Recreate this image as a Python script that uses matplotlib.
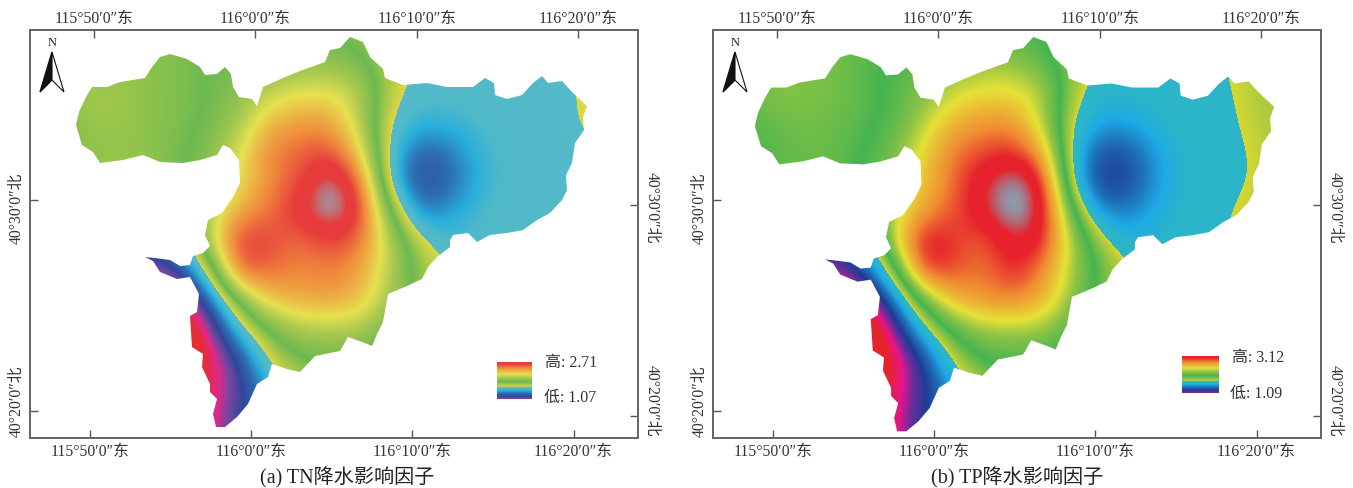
import numpy as np
import matplotlib
matplotlib.use('Agg')
import matplotlib.pyplot as plt
from matplotlib.colors import LinearSegmentedColormap
from matplotlib.patches import Polygon
from matplotlib.transforms import ScaledTranslation

FONT = ['Liberation Serif', 'Noto Sans CJK SC']
W, H = 1353, 488

## boundary of the basin in image pixels
outline_x = [76,79,86,92,107,120,145,152,160,170,187,200,205,217,225,231,233,239,252,257,263,283,300,325,330,340,
             350,363,370,383,385,403,427,447,473,485,494,495,507,522,533,542,548,562,572,587,583,584,575,572,566,
             567,562,550,537,523,507,490,477,468,453,450,450,437,428,422,407,388,385,383,377,372,362,348,340,315,
             300,287,272,268,257,248,237,225,216,213,217,210,210,202,203,192,190,197,199,190,177,160,153,145,
             155,170,180,190,193,203,210,205,208,222,233,240,239,230,223,217,200,183,160,143,123,100,93,82]
outline_y = [125,112,97,87,87,82,78,67,57,54,59,67,75,74,67,74,87,97,99,106,87,78,71,62,50,48,
             37,42,57,69,78,85,83,87,87,78,83,95,99,95,83,76,83,81,92,106,117,130,143,163,175,
             190,200,213,220,230,233,235,242,233,235,240,247,257,267,279,286,294,311,322,334,346,342,337,351,356,
             372,369,364,377,384,404,417,427,427,414,399,392,384,367,354,347,316,312,294,277,279,272,261,257,
             258,260,266,265,256,253,246,235,220,213,197,183,160,148,145,155,160,163,162,155,160,163,152,145]

## raster level of the factor (0 = peak, 100 = far end of the ramp), one row per 30 px
grid_x = [60,90,120,150,180,210,240,270,300,330,360,390,420,450,480,510,540,570,600]
grid_y = [30,60,90,120,150,180,210,240,270,300,330,360,390,420,450]

levels_tn = [
    [59,59,59,58,57,56,56,56,56,56,58,64,67,67,68,68,67,66,65],
    [59,59,59,58,57,55,54,52,50,50,54,62,66.5,68,68,68,67,66.3,65],
    [59,60,60,58,57,55,50,44,40,39,44,63,69,69,68,68,68,66.2,65],
    [57,60,60,58,57,54,47,32,28,28,44,67,72,72,70,68,68,66.3,65],
    [55,58,59,58,56,52,39,24,21,18,36,70,82,79,72,69,68,67,66],
    [60,60,60,60,56,50,38,25,18,4,20,72,86,82,73,69,68,67,66],
    [66,66,66,66,58,44,30,22,13,0,13,56,80,76,71,68,68,67,66],
    [80,80,80,80,75,42,14,17,22,16,21,44,65,71,69,68,68,67,66],
    [105,100,98,92,86,62,18,21,25,23,28,44,58,66,69,68,67,66,66],
    [115,115,115,110,100,82,52,33,30,28,32,47,60,66,68,68,67,66,66],
    [115,115,115,115,110,94,70,54,46,45,46,54,62,66,67,67,67,66,66],
    [115,115,115,115,110,99,86,64,56,54,56,60,64,66,67,67,67,66,66],
    [115,115,115,115,108,98,88,76,62,58,58,60,64,66,67,67,67,66,66],
    [115,115,115,115,106,97,86,78,66,60,58,60,64,66,67,67,67,66,66],
    [115,115,115,115,106,97,86,78,66,60,58,60,64,66,67,67,67,66,66],
]
levels_tp = [
    [60,60,60,59,57,55,54,54,54,54,56,62,67,68,68,68,66,64,62],
    [60,60,60,59,57,54,52,48,46,46,52,62,67,69,68,68,66,64,62],
    [58,60,60,59,57,54,47,42,38,38,42,63,70,70,68,68,67,64,62],
    [56,58,59,58,57,53,44,32,27,27,42,68,74,73,70,68,67.5,64.5,62],
    [55,56,58,58,55,50,36,23,20,17,30,71,84,82,73,69,68,65.5,63],
    [57,58,58,57,55,48,34,22,12,3,13,72,88,84,74,69,68,65.7,63],
    [66,66,66,66,58,44,28,21,11,0,10,56,80,78,72,69,67,64,62],
    [80,80,80,85,76,40,12,17,22,10,14,44,65,72,70,68,66.5,63,62],
    [105,100,98,92,84,62,15,19,24,15,24,44,58,66,69,68,66,63,62],
    [115,115,115,110,100,82,51,31,26,24,30,47,60,66,68,67,65,63,62],
    [115,115,115,115,110,94,70,53,45,44,45,54,62,66,68,67,65,63,62],
    [115,115,115,115,110,100,87,64,55,53,55,60,64,66,67,66,65,63,62],
    [115,115,115,115,108,98,88,76,62,57,57,60,64,66,67,66,65,63,62],
    [115,115,115,115,106,97,86,78,66,60,58,60,64,66,67,66,65,63,62],
    [115,115,115,115,106,97,86,78,66,60,58,60,64,66,67,66,65,63,62],
]

## ramps: (level, colour)
ramp_levels = [0,5,11,16,25,38,46,55,64,66,66.01,70,74,80,86,91,95,100]
ramp_tn = ['#96a3b0','#96a3b0','#e63c3c','#e63c3c','#f08c3c','#e6e150','#a8c850','#6cb950','#c8d246',
           '#dcd74a','#55b9c8','#50b9c8','#28afdc','#2d6eb4','#32469a','#78469f','#e1288c','#e62d32']
ramp_tp = ['#8c9bab','#8c9bab','#e6232d','#e6232d','#f08c32','#e6e137','#8cc346','#46b450','#b4cd3c',
           '#d7d732','#2cb4c8','#2cb4c8','#1eaae6','#1e6eb4','#1e3c96','#6e2d9b','#e6148c','#e6232d']

lon_ticks = [115+50/60, 116, 116+10/60, 116+20/60]
lon_labels = ['115°50′0″东', '116°0′0″东', '116°10′0″东', '116°20′0″东']
lat_ticks = [40+20/60, 40.5]
lat_labels = ['40°20′0″北', '40°30′0″北']

def lon_of(px, x0=251.):
    return 116 + (np.asarray(px, float) - x0) / 16.13 / 60
def lat_of(py, y0=411.):
    return 40 + 20/60 + (y0 - np.asarray(py, float)) / 21.1 / 60

def frac(px, py):
    # panel-(a) pixels to axes fraction
    return (px - 30.) / 608., (438. - py) / 408.

def make_cmap(colors):
    stops = [l / 100. for l in ramp_levels]
    return LinearSegmentedColormap.from_list('ramp', list(zip(stops, colors)), N=2048)

def draw_panel(fig, shift, levels, ramp, stretch, caption, cap_x, high, low, leg, high_pos, low_pos):
    ax = fig.add_axes([(30. + shift) / W, 1 - 438. / H, 608. / W, 408. / H])
    cmap = make_cmap(ramp)
    ext = (lon_of(grid_x[0] - 15), lon_of(grid_x[-1] + 15), lat_of(grid_y[-1] + 15), lat_of(grid_y[0] - 15))
    im = ax.imshow(np.array(levels, float), extent=ext, origin='upper', aspect='auto', cmap=cmap,
                   vmin=0, vmax=100, interpolation='bicubic', interpolation_stage='data')
    # panel (b) map is printed a little larger
    ox = 331 + (np.array(outline_x) - 331.) * stretch
    oy = 38 + (np.array(outline_y) - 38.) * (1 + (stretch - 1) * 0.7)
    poly = Polygon(np.c_[lon_of(ox), lat_of(oy)], closed=True, transform=ax.transData, fc='none', ec='none')
    ax.add_patch(poly)
    im.set_clip_path(poly)
    ax.set_xlim(lon_of(30), lon_of(638))
    ax.set_ylim(lat_of(438), lat_of(30))

    ax.set_xticks(lon_ticks)
    ax.set_xticklabels(lon_labels, family=FONT, fontsize=11.3, color='#333333')
    ax.set_yticks(lat_ticks)
    ax.set_yticklabels(lat_labels, family=FONT, fontsize=11.3, color='#333333', rotation=90, va='center')
    ax.tick_params(direction='in', length=6, width=1, color='#555555', pad=4)
    for lab, dy in zip(ax.get_yticklabels(), [-10, 8]):
        lab.set_transform(lab.get_transform() + ScaledTranslation(0, -dy / 100., fig.dpi_scale_trans))

    top = ax.twiny()
    top.set_xlim(lon_of(30, 255.5), lon_of(638, 255.5))
    top.set_xticks(lon_ticks)
    top.set_xticklabels(lon_labels, family=FONT, fontsize=11.3, color='#333333')
    top.tick_params(direction='in', length=6, width=1, color='#555555', pad=2)

    right = ax.twinx()
    right.set_ylim(lat_of(438, 416.), lat_of(30, 416.))
    right.set_yticks(lat_ticks)
    right.set_yticklabels(lat_labels, family=FONT, fontsize=11.3, color='#333333', rotation=270, va='center')
    right.tick_params(direction='in', length=6, width=1, color='#555555', pad=4)
    for lab, dy in zip(right.get_yticklabels(), [-15, 3]):
        lab.set_transform(lab.get_transform() + ScaledTranslation(0, -dy / 100., fig.dpi_scale_trans))

    for a in (ax, top, right):
        for s in a.spines.values():
            s.set_color('#666666')
            s.set_linewidth(1.1)

    # north arrow
    ax.fill(*zip(frac(52, 52), frac(40, 92), frac(52, 80)), color='#111111', transform=ax.transAxes)
    ax.fill(*zip(frac(52, 52), frac(64, 92), frac(52, 80)), fc='white', ec='#111111', lw=0.8, transform=ax.transAxes)
    ax.text(*frac(52, 43), 'N', transform=ax.transAxes, ha='center', va='center', family=FONT, fontsize=9, color='#222222')

    # legend ramp
    lax = fig.add_axes([leg[0] / W, 1 - leg[3] / H, (leg[1] - leg[0]) / W, (leg[3] - leg[2]) / H])
    lax.imshow(np.linspace(12, 92, 128)[:, None], cmap=cmap, vmin=0, vmax=100, aspect='auto')
    lax.axis('off')
    fig.text(high_pos[0] / W, 1 - high_pos[1] / H, '高: ' + high, family=FONT, fontsize=11.5, color='#333333', va='center')
    fig.text(low_pos[0] / W, 1 - low_pos[1] / H, '低: ' + low, family=FONT, fontsize=11.5, color='#333333', va='center')
    fig.text(cap_x / W, 1 - 477.5 / H, caption, family=FONT, fontsize=14.5, color='#222222', ha='center', va='center')

fig = plt.figure(figsize=(W / 100., H / 100.), dpi=100)
draw_panel(fig, 0, levels_tn, ramp_tn, 1.0, '(a) TN降水影响因子', 347, '2.71', '1.07',
           (497, 532, 362, 399), (545, 363), (544, 398))
draw_panel(fig, 683, levels_tp, ramp_tp, 1.016, '(b) TP降水影响因子', 1017, '3.12', '1.09',
           (1182, 1219, 356, 393), (1232, 358), (1230, 394))
fig.savefig('out.png', dpi=100)
